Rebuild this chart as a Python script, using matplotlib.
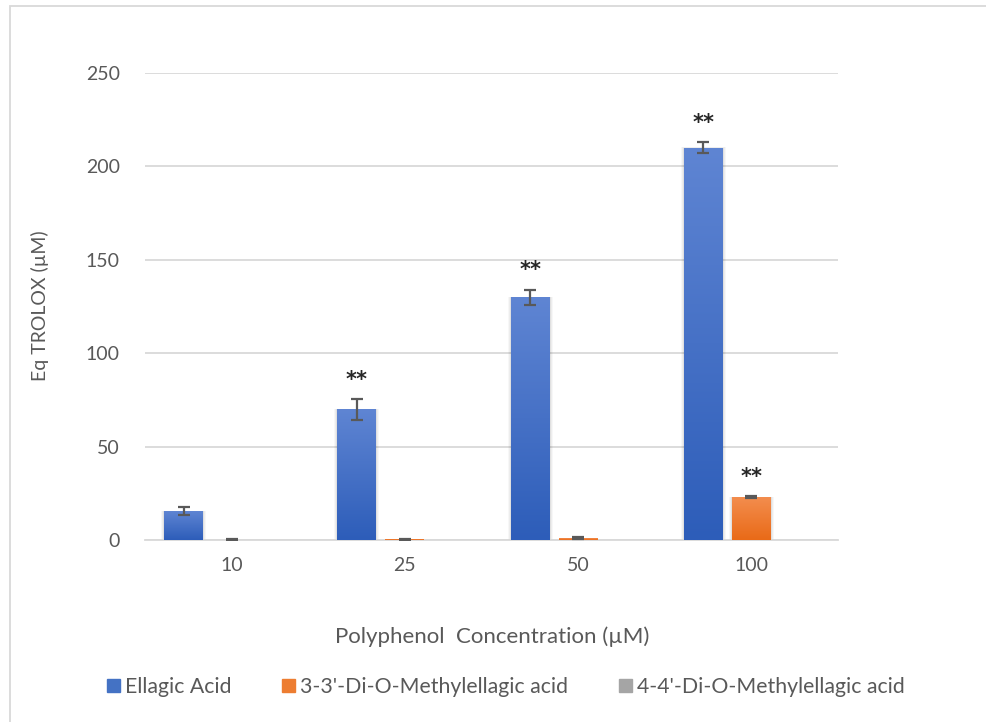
import numpy as np
import matplotlib
matplotlib.use("Agg")
import matplotlib.pyplot as plt
from matplotlib.patches import Rectangle

plt.rcParams['font.family'] = ['Lato', 'DejaVu Sans']

categories = ["10", "25", "50", "100"]
series_names = ["Ellagic Acid", "3-3'-Di-O-Methylellagic acid", "4-4'-Di-O-Methylellagic acid"]
ellagic = [15.5, 70, 130, 210]
ellagic_err = [2, 5.5, 4, 3]
dm33 = [0.2, 0.3, 1.0, 23]
dm33_err = [0.2, 0.2, 0.4, 0.6]
dm44 = [0.05, 0.05, 0.05, 0.05]
dm44_err = [0, 0, 0, 0]
stars = [[False, True, True, True], [False, False, False, True], [False, False, False, False]]
yticks = [0, 50, 100, 150, 200, 250]

values = [ellagic, dm33, dm44]
errors = [ellagic_err, dm33_err, dm44_err]
top_colors = ["#5F85D3", "#F38D4E", "#B5B5B5"]
bot_colors = ["#2D5DB9", "#E96A17", "#8E8E8E"]
mid_colors = ["#4472C4", "#ED7D31", "#A5A5A5"]

fig = plt.figure(figsize=(9.86, 7.22), dpi=100)
ax = fig.add_axes([0.147, 0.252, 0.703, 0.647])

# outer chart border
fig.patches.append(Rectangle((10/986, -0.01), 1.0, 1 - 6/722 + 0.01, transform=fig.transFigure,
                             fill=False, edgecolor="#D9D9D9", linewidth=1.3, zorder=0))

x = np.arange(len(categories))
w = 0.225
off = 0.277
text_c = "#595959"

def vgrad(c1, c2, n=256):
    a = np.array(matplotlib.colors.to_rgb(c1))
    b = np.array(matplotlib.colors.to_rgb(c2))
    t = np.linspace(0, 1, n)[:, None]
    return (a * (1 - t) + b * t)[:, None, :]

for i, (vals, errs) in enumerate(zip(values, errors)):
    pos = x + (i - 1) * off
    bars = ax.bar(pos, vals, width=w, color=mid_colors[i], zorder=3, linewidth=0)
    grad = vgrad(top_colors[i], bot_colors[i])
    for b in bars:
        bx, bw, bh = b.get_x(), b.get_width(), b.get_height()
        if bh > 2:
            for k, a in enumerate([0.05, 0.04, 0.03]):
                d = 0.006 * (k + 1)
                ax.add_patch(Rectangle((bx - d, 0), bw + 2 * d, bh + d * 10, color="black",
                                       alpha=a, zorder=2, linewidth=0))
        im = ax.imshow(grad, extent=(bx, bx + bw, 0, bh), aspect="auto", zorder=3.5,
                       origin="upper")
        im.set_clip_path(b)
    if any(e > 0 for e in errs):
        ax.errorbar(pos, vals, yerr=errs, fmt="none", ecolor="#595959", elinewidth=1.6,
                    capsize=4.5, capthick=1.6, zorder=4)
    for j in range(len(categories)):
        if stars[i][j]:
            ax.text(pos[j], vals[j] + errs[j] + 5, "**", ha="center", va="bottom",
                    fontsize=15, fontweight="bold", color="#262626", zorder=5,
                    family="DejaVu Sans")

ax.set_xlim(-0.5, len(categories) - 0.5)
ax.set_ylim(0, 250)
ax.set_yticks(yticks)
ax.set_xticks(x)
ax.set_xticklabels(categories)
ax.grid(axis="y", color="#D9D9D9", linewidth=1.3, zorder=0)
ax.set_axisbelow(True)
for s in ["top", "right", "left"]:
    ax.spines[s].set_visible(False)
ax.spines["bottom"].set_color("#D9D9D9")
ax.spines["bottom"].set_linewidth(1.3)
ax.tick_params(axis="both", length=0, labelsize=14, labelcolor=text_c)
ax.tick_params(axis="y", pad=18)
ax.tick_params(axis="x", pad=12)

fig.text(40/986, 1 - 306/722, "Eq TROLOX (µM)", rotation=90, ha="center", va="center",
         fontsize=14, color=text_c)
fig.text(492/986, 1 - 637/722, "Polyphenol  Concentration (µM)", ha="center", va="center",
         fontsize=16, color=text_c)

handles = [Rectangle((0, 0), 1, 1, color=c) for c in mid_colors]
leg = fig.legend(handles, series_names, loc="center", bbox_to_anchor=(506/986, 1 - 687/722),
                 ncol=3, frameon=False, fontsize=15.3, handlelength=0.6, handleheight=0.6,
                 handletextpad=0.25, columnspacing=2.4)
for t in leg.get_texts():
    t.set_color(text_c)

fig.savefig("out.png", dpi=100)
